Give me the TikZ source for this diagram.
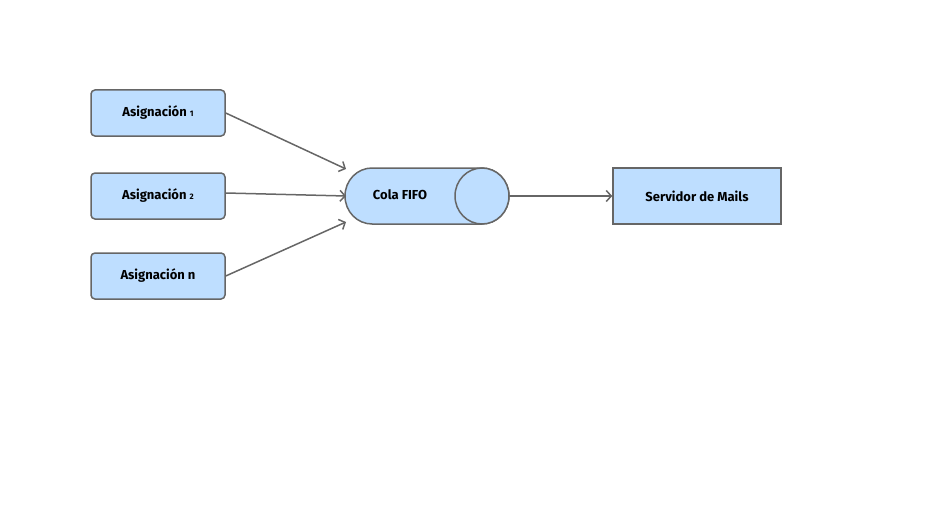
\documentclass[tikz,border=0pt]{standalone}
\usepackage{fontspec}
\setmainfont{Fira Sans}
\usetikzlibrary{arrows.meta}
\definecolor{boxfill}{RGB}{190,222,255}
\definecolor{edge}{RGB}{102,102,102}
\tikzset{
  lbl/.style={font=\fontsize{13}{15}\selectfont\bfseries},
  asg/.style={lbl, draw=edge, fill=boxfill, line width=1.5pt, rounded corners=4pt,
    minimum width=134pt, minimum height=46pt, inner sep=0pt},
  srv/.style={lbl, draw=edge, fill=boxfill, line width=1.5pt,
    minimum width=168pt, minimum height=56pt, inner sep=0pt},
  cyl/.style={draw=edge, fill=boxfill, line width=1.5pt},
  conn/.style={draw=edge, line width=1.5pt, -{Straight Barb[length=5pt,width=11pt]}}
}
\newcommand{\subnum}[1]{{\fontsize{8}{9}\selectfont #1}}
\begin{document}
\begin{tikzpicture}[x=1pt,y=-1pt]
\useasboundingbox (0,0) rectangle (940,519);
\node[asg] (a1) at (158,113) {Asignación \subnum{1}};
\node[asg] (a2) at (158,196) {Asignación \subnum{2}};
\node[asg] (a3) at (158,276) {Asignación n};
% cylinder
\path[cyl] (372,168) -- (482,168) arc[start angle=-90, end angle=90, x radius=27, y radius=28]
  -- (372,224) arc[start angle=90, end angle=270, x radius=27, y radius=28] -- cycle;
\draw[cyl] (482,196) ellipse [x radius=27, y radius=28];
\node[lbl, inner sep=0pt] (cola) at (400,195) {Cola FIFO};
\coordinate (cin1) at (346,169);
\coordinate (cin2) at (346,196);
\coordinate (cin3) at (346,222);
\coordinate (cout) at (509,196);
\node[srv] (srv) at (697,196) {Servidor de Mails};
\draw[conn] (a1.east) -- (cin1);
\draw[conn] ([yshift=3pt]a2.east) -- (cin2);
\draw[conn] (a3.east) -- (cin3);
\draw[conn] (cout) -- (srv.west);
\end{tikzpicture}
\end{document}
